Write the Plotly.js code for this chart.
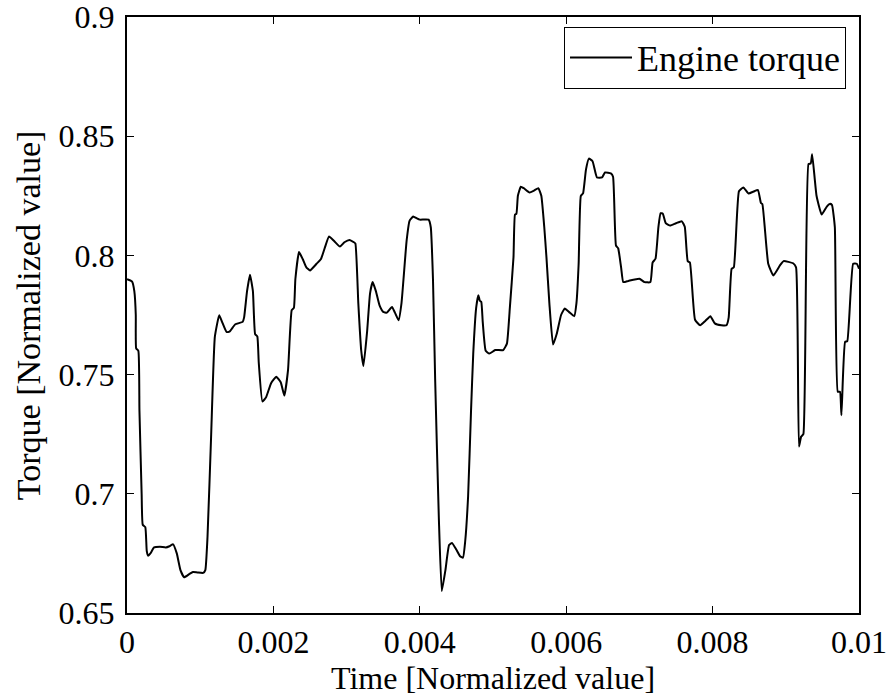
<!DOCTYPE html>
<html>
<head>
<meta charset="utf-8">
<script src="https://cdn.plot.ly/plotly-3.0.1.min.js"></script>
<style>html,body{margin:0;padding:0;background:#fff;}</style>
</head>
<body>
<div id="chart" style="width:891px;height:698px;"></div>
<script>
var seriesName = "Engine torque";
var xTitle = "Time [Normalized value]";
var yTitle = "Torque [Normalized value]";
var xTickVals = [0, 0.002, 0.004, 0.006, 0.008, 0.01];
var xTickText = ["0", "0.002", "0.004", "0.006", "0.008", "0.01"];
var yTickVals = [0.65, 0.7, 0.75, 0.8, 0.85, 0.9];
var yTickText = ["0.65", "0.7", "0.75", "0.8", "0.85", "0.9"];

var time = [
0, 0.00007, 0.0001, 0.00012, 0.000125, 0.000155, 0.00017, 0.0002, 0.000215, 0.00025,
0.00027, 0.00029, 0.00032, 0.00037, 0.00045, 0.00053, 0.00058, 0.00063, 0.00068, 0.00073,
0.00078, 0.00085, 0.0009, 0.00096, 0.00104, 0.00107, 0.0011, 0.00115, 0.0012, 0.00126,
0.0013, 0.00136, 0.0014, 0.00148, 0.00158, 0.0016, 0.00164, 0.00168, 0.00172, 0.00175,
0.00178, 0.0018, 0.00185, 0.0019, 0.00197, 0.00204, 0.0021, 0.00215, 0.0022, 0.00225,
0.00228, 0.0023, 0.00235, 0.0024, 0.00245, 0.0025, 0.00259, 0.00265, 0.0027, 0.00276,
0.00283, 0.00291, 0.00297, 0.00304, 0.0031, 0.00312, 0.00316, 0.0032, 0.00323, 0.00328,
0.00332, 0.003356, 0.0034, 0.00345, 0.0035, 0.00355, 0.00362, 0.00366, 0.00371, 0.00375,
0.00382, 0.00386, 0.00391, 0.00396, 0.004, 0.00412, 0.00415, 0.00418, 0.00421, 0.00426,
0.0043, 0.00435, 0.0044, 0.00444, 0.0045, 0.00455, 0.00459, 0.00462, 0.00466, 0.0047,
0.00473, 0.00477, 0.0048, 0.00482, 0.00484, 0.00486, 0.0049, 0.00495, 0.00503, 0.00514,
0.00519, 0.00523, 0.00528, 0.0053, 0.00532, 0.00534, 0.00538, 0.00542, 0.0055, 0.00556,
0.00562, 0.00566, 0.0057, 0.00573, 0.00577, 0.00582, 0.00587, 0.00593, 0.00598, 0.00604,
0.00611, 0.00614, 0.00617, 0.0062, 0.00623, 0.00627, 0.00631, 0.00636, 0.00642, 0.00649,
0.00653, 0.00661, 0.00664, 0.00668, 0.00671, 0.00675, 0.00678, 0.00685, 0.007, 0.00707,
0.00715, 0.00718, 0.00722, 0.00726, 0.00729, 0.00732, 0.00736, 0.00742, 0.0075, 0.00758,
0.00762, 0.00766, 0.00769, 0.00776, 0.00783, 0.0079, 0.00797, 0.00803, 0.00812, 0.00819,
0.00822, 0.00826, 0.00829, 0.00836, 0.00842, 0.00849, 0.00856, 0.00862, 0.00866, 0.00868,
0.00876, 0.00883, 0.00892, 0.00897, 0.0091, 0.00914, 0.00918, 0.00921, 0.00924, 0.00931,
0.00934, 0.00936, 0.00942, 0.00949, 0.00956, 0.0096, 0.00963, 0.00967, 0.00971, 0.00974,
0.00976, 0.00981, 0.00984, 0.00992, 0.00997, 0.01
];
var torque = [
0.790, 0.789, 0.785, 0.775, 0.761, 0.760, 0.735, 0.700, 0.687, 0.686,
0.676, 0.674, 0.675, 0.6775, 0.6778, 0.6775, 0.678, 0.6788, 0.675, 0.668,
0.665, 0.6663, 0.6672, 0.667, 0.6668, 0.668, 0.682, 0.725, 0.7658, 0.7749,
0.772, 0.7679, 0.768, 0.7711, 0.7721, 0.774, 0.785, 0.7919, 0.785, 0.767,
0.766, 0.755, 0.7387, 0.7405, 0.7465, 0.7491, 0.7468, 0.7412, 0.752, 0.777,
0.778, 0.79, 0.8014, 0.7985, 0.795, 0.7937, 0.7965, 0.7985, 0.803, 0.8079,
0.806, 0.8037, 0.8055, 0.8065, 0.8055, 0.805, 0.78, 0.76, 0.7536, 0.768,
0.784, 0.7888, 0.785, 0.779, 0.7763, 0.776, 0.7784, 0.776, 0.7728, 0.78,
0.8062, 0.8145, 0.8163, 0.8155, 0.815, 0.815, 0.8118, 0.79, 0.7477, 0.69,
0.6592, 0.668, 0.6785, 0.6794, 0.6765, 0.6738, 0.6732, 0.68, 0.699, 0.735,
0.7588, 0.778, 0.7833, 0.781, 0.7805, 0.772, 0.76, 0.7588, 0.7603, 0.7603,
0.763, 0.778, 0.7993, 0.8171, 0.8175, 0.825, 0.8288, 0.8282, 0.8264, 0.8272,
0.8282, 0.825, 0.812, 0.7993, 0.78, 0.7626, 0.767, 0.775, 0.7777, 0.7762,
0.7745, 0.78, 0.7965, 0.825, 0.826, 0.836, 0.8406, 0.8395, 0.8327, 0.8327,
0.8348, 0.8344, 0.833, 0.8041, 0.803, 0.795, 0.7888, 0.7893, 0.7902, 0.7888,
0.7888, 0.797, 0.7986, 0.812, 0.8177, 0.8175, 0.8135, 0.8125, 0.8135, 0.8143,
0.812, 0.7976, 0.797, 0.773, 0.7707, 0.7725, 0.7745, 0.7715, 0.7707, 0.7707,
0.774, 0.7944, 0.795, 0.8269, 0.8285, 0.826, 0.8268, 0.8274, 0.822, 0.8215,
0.7965, 0.7916, 0.7958, 0.7976, 0.7967, 0.795, 0.7198, 0.724, 0.725, 0.8383,
0.8385, 0.8424, 0.825, 0.8171, 0.8205, 0.8216, 0.8212, 0.8118, 0.7428, 0.7428,
0.733, 0.7637, 0.764, 0.7965, 0.7965, 0.7944
];

var fontFam = 'Liberation Serif, Times New Roman, serif';
var fs = 32;

var trace = {
  x: time, y: torque, type: 'scatter', mode: 'lines', name: seriesName,
  line: {color: '#000', width: 2, shape: 'spline', smoothing: 0.4}
};

var axisCommon = {
  showgrid: false, zeroline: false, showline: true, mirror: 'ticks',
  linecolor: '#000', linewidth: 2, ticks: 'inside', ticklen: 7,
  tickcolor: '#000', tickwidth: 1, tickmode: 'array',
  ticklabeloverflow: 'allow',
  tickfont: {family: fontFam, size: fs, color: '#000'}
};

var layout = {
  width: 891, height: 698,
  margin: {l: 127, r: 32, t: 17, b: 85},
  paper_bgcolor: '#fff', plot_bgcolor: '#fff',
  font: {family: fontFam, color: '#000'},
  showlegend: true,
  legend: {
    x: 0.597, y: 0.984, xanchor: 'left', yanchor: 'top',
    bgcolor: '#fff', bordercolor: '#000', borderwidth: 1,
    font: {family: fontFam, size: 36, color: '#000'},
    itemwidth: 62, tracegroupgap: 0
  },
  xaxis: Object.assign({}, axisCommon, {
    range: [0, 0.01], tickvals: xTickVals, ticktext: xTickText,
    ticklabelstandoff: 0
  }),
  yaxis: Object.assign({}, axisCommon, {
    range: [0.65, 0.9], tickvals: yTickVals, ticktext: yTickText,
    ticklabelstandoff: 4
  }),
  annotations: [
    {text: xTitle, xref: 'paper', yref: 'paper', x: 0.5, y: -0.1425,
     xanchor: 'center', yanchor: 'bottom', showarrow: false,
     font: {family: fontFam, size: 32, color: '#000'}},
    {text: yTitle, xref: 'paper', yref: 'paper', x: -0.135, y: 0.5,
     xanchor: 'center', yanchor: 'middle', textangle: -90, showarrow: false,
     font: {family: fontFam, size: 34, color: '#000'}}
  ]
};

Plotly.newPlot('chart', [trace], layout, {displayModeBar: false, staticPlot: true});
</script>
</body>
</html>
